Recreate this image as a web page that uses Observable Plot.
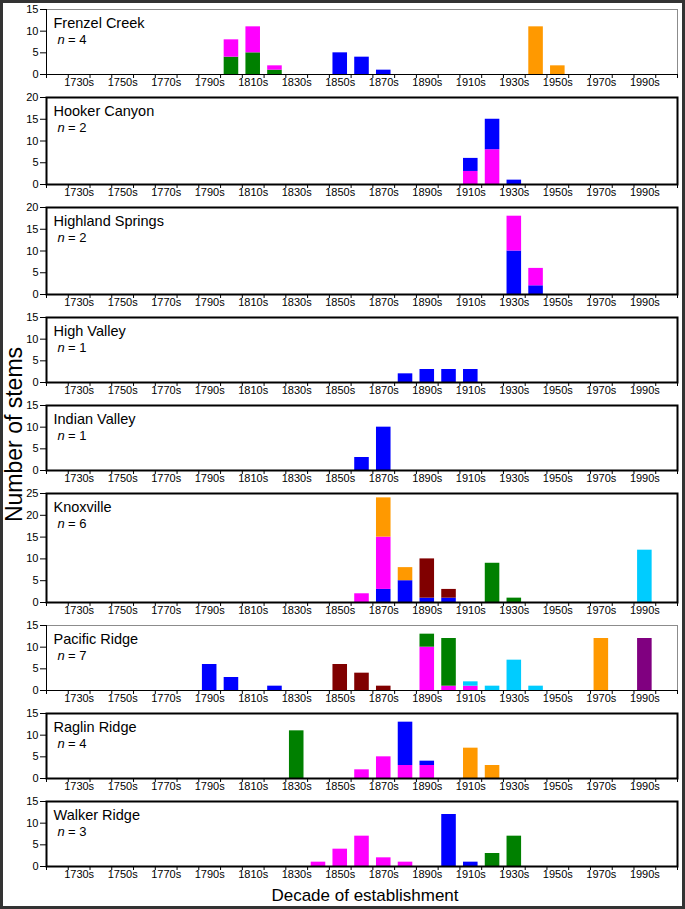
<!DOCTYPE html>
<html>
<head>
<meta charset="utf-8">
<script src="https://cdn.jsdelivr.net/npm/d3@7"></script>
<script src="https://cdn.jsdelivr.net/npm/@observablehq/plot@0.6"></script>
<style>
  html, body { margin: 0; padding: 0; background: #fff; }
  #page {
    position: relative; width: 685px; height: 909px; box-sizing: border-box;
    border: 3px solid #333; background: #fff; overflow: hidden;
    font-family: "Liberation Sans", Arial, sans-serif; color: #000;
  }
  #panels svg { display: block; }
  #xtitle {
    position: absolute; left: 162px; top: 883px; width: 400px; height: 20px;
    line-height: 20px; text-align: center; font-size: 17px; white-space: nowrap;
  }
  #ytitle {
    position: absolute; left: -114px; top: 420px; width: 250px; height: 23px;
    line-height: 23px; text-align: center; font-size: 23px; white-space: nowrap;
    transform: rotate(-90deg);
  }
</style>
</head>
<body>
<div id="page">
  <div id="panels"></div>
  <div id="xtitle">Decade of establishment</div>
  <div id="ytitle">Number of stems</div>
</div>
<script>
// ---------- data ----------
const siteNames = ["Frenzel Creek", "Hooker Canyon", "Highland Springs", "High Valley",
  "Indian Valley", "Knoxville", "Pacific Ridge", "Raglin Ridge", "Walker Ridge"];
const siteTreeCounts = [4, 2, 2, 1, 1, 6, 7, 4, 3];
const siteYMax = [15, 20, 20, 15, 15, 25, 15, 15, 15];
const decadeLabels = ["1730s", "1750s", "1770s", "1790s", "1810s", "1830s", "1850s",
  "1870s", "1890s", "1910s", "1930s", "1950s", "1970s", "1990s"];
const treeNames = ["blue tree", "magenta tree", "green tree", "orange tree",
  "dark red tree", "cyan tree", "purple tree"];
const treeColors = ["#0000FF", "#FF00FF", "#008000", "#FF9900", "#800000", "#00CCFF", "#800080"];

// rows: [decade, tree, stems], listed bottom-to-top within each decade's stack
const frenzelCreek = [
  [1800, "green tree", 4], [1800, "magenta tree", 4],
  [1810, "green tree", 5], [1810, "magenta tree", 6],
  [1820, "green tree", 1], [1820, "magenta tree", 1],
  [1850, "blue tree", 5], [1860, "blue tree", 4], [1870, "blue tree", 1],
  [1940, "orange tree", 11], [1950, "orange tree", 2]
];
const hookerCanyon = [
  [1910, "magenta tree", 3], [1910, "blue tree", 3],
  [1920, "magenta tree", 8], [1920, "blue tree", 7],
  [1930, "blue tree", 1]
];
const highlandSprings = [
  [1930, "blue tree", 10], [1930, "magenta tree", 8],
  [1940, "blue tree", 2], [1940, "magenta tree", 4]
];
const highValley = [
  [1880, "blue tree", 2], [1890, "blue tree", 3], [1900, "blue tree", 3], [1910, "blue tree", 3]
];
const indianValley = [
  [1860, "blue tree", 3], [1870, "blue tree", 10]
];
const knoxville = [
  [1860, "magenta tree", 2],
  [1870, "blue tree", 3], [1870, "magenta tree", 12], [1870, "orange tree", 9],
  [1880, "blue tree", 5], [1880, "orange tree", 3],
  [1890, "blue tree", 1], [1890, "dark red tree", 9],
  [1900, "blue tree", 1], [1900, "dark red tree", 2],
  [1920, "green tree", 9], [1930, "green tree", 1],
  [1990, "cyan tree", 12]
];
const pacificRidge = [
  [1790, "blue tree", 6], [1800, "blue tree", 3], [1820, "blue tree", 1],
  [1850, "dark red tree", 6], [1860, "dark red tree", 4], [1870, "dark red tree", 1],
  [1890, "magenta tree", 10], [1890, "green tree", 3],
  [1900, "magenta tree", 1], [1900, "green tree", 11],
  [1910, "magenta tree", 1], [1910, "cyan tree", 1],
  [1920, "cyan tree", 1], [1930, "cyan tree", 7], [1940, "cyan tree", 1],
  [1970, "orange tree", 12], [1990, "purple tree", 12]
];
const raglinRidge = [
  [1830, "green tree", 11],
  [1860, "magenta tree", 2], [1870, "magenta tree", 5],
  [1880, "magenta tree", 3], [1880, "blue tree", 10],
  [1890, "magenta tree", 3], [1890, "blue tree", 1],
  [1910, "orange tree", 7], [1920, "orange tree", 3]
];
const walkerRidge = [
  [1840, "magenta tree", 1], [1850, "magenta tree", 4], [1860, "magenta tree", 7],
  [1870, "magenta tree", 2], [1880, "magenta tree", 1],
  [1900, "blue tree", 12], [1910, "blue tree", 1],
  [1920, "green tree", 3], [1930, "green tree", 7]
];
const siteData = [frenzelCreek, hookerCanyon, highlandSprings, highValley,
  indianValley, knoxville, pacificRidge, raglinRidge, walkerRidge];

// ---------- styling config ----------
const thinFramePanels = new Set(["Frenzel Creek", "Pacific Ridge"]);
const xStart = 1720, xEnd = 2010;   // 1720s … 2000s bands
const pxPerStem = 4.34;
const fontFamily = '"Liberation Sans", Arial, sans-serif';

const labelMid = decadeLabels.map(l => parseInt(l) + 5);
const labelByMid = new Map(decadeLabels.map(l => [parseInt(l) + 5, l]));

const container = document.getElementById("panels");

siteNames.forEach((name, i) => {
  const rows = siteData[i].map(([decade, tree, stems]) => ({decade, tree, stems}));
  const ymax = siteYMax[i];
  const thin = thinFramePanels.has(name);
  const marks = [];
  if (thin) marks.push(Plot.frame({stroke: "#8c8c8c", strokeWidth: 1}));
  marks.push(Plot.rectY(rows, {
    x: "decade", y: "stems", interval: 10, fill: "tree",
    insetLeft: 3.6, insetRight: 3.6
  }));
  if (thin) {
    marks.push(Plot.ruleY([0], {stroke: "#000"}));
    marks.push(Plot.ruleX([xStart], {stroke: "#000"}));
  } else {
    marks.push(Plot.frame({stroke: "#000", strokeWidth: 2}));
  }
  marks.push(Plot.axisY({
    ticks: d3.range(0, ymax + 1, 5), tickSize: 6, tickPadding: 2,
    label: null, fontSize: 11
  }));
  marks.push(Plot.axisX({
    ticks: d3.range(xStart, xEnd + 1, 10), tickSize: 4,
    tickFormat: () => "", label: null
  }));
  marks.push(Plot.axisX({
    ticks: labelMid, tickSize: 0, tickPadding: 4,
    tickFormat: v => labelByMid.get(v), label: null, fontSize: 11
  }));
  marks.push(Plot.text([name], {
    text: d => d, frameAnchor: "top-left", dx: 7, dy: 14,
    lineAnchor: "middle", textAnchor: "start", fontSize: 14.5
  }));
  marks.push(Plot.text(["n"], {
    text: d => d, frameAnchor: "top-left", dx: 11, dy: 30,
    lineAnchor: "middle", textAnchor: "start", fontSize: 13, fontStyle: "italic"
  }));
  marks.push(Plot.text([`= ${siteTreeCounts[i]}`], {
    text: d => d, frameAnchor: "top-left", dx: 21.5, dy: 30,
    lineAnchor: "middle", textAnchor: "start", fontSize: 13
  }));

  const plot = Plot.plot({
    width: 679,
    height: Math.round(pxPerStem * ymax) + 23,
    marginLeft: 43, marginRight: 5, marginTop: 6, marginBottom: 17,
    x: {domain: [xStart, xEnd], axis: null},
    y: {domain: [0, ymax], axis: null},
    color: {type: "ordinal", domain: treeNames, range: treeColors},
    style: {fontFamily, fontSize: "11px", color: "#000", background: "transparent", overflow: "visible"},
    marks
  });
  container.appendChild(plot);
});
</script>
</body>
</html>
